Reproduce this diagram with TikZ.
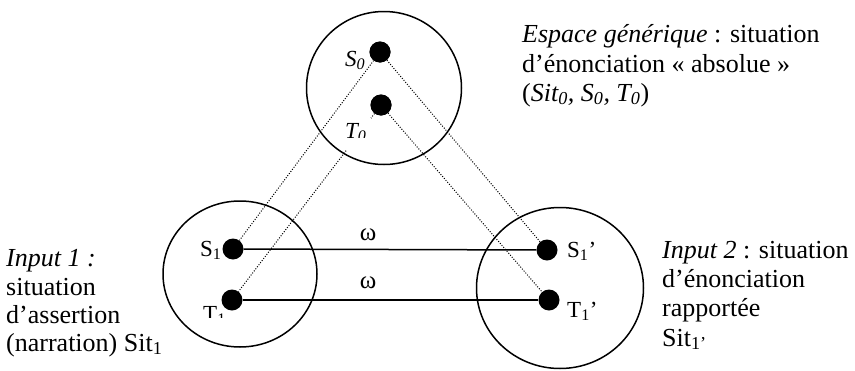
\documentclass[tikz,border=0pt]{standalone}
\usepackage{fontspec}
\setmainfont{Liberation Serif}
\usetikzlibrary{shapes.geometric}
\tikzset{
  ring/.style={draw, ellipse, line width=1.5pt, inner sep=0pt},
  blob/.style={circle, fill=black, minimum size=21pt, inner sep=0pt},
  solidlink/.style={line width=1.5pt},
  dotlink/.style={line width=1pt, dash pattern=on 1pt off 1.6pt},
  txt/.style={anchor=base west, inner sep=0pt, font=\fontsize{26}{29}\selectfont},
  lab/.style={anchor=base west, inner sep=0pt, font=\fontsize{23}{26}\selectfont},
  omega/.style={inner sep=0pt, font=\fontsize{25}{28}\selectfont}
}
\begin{document}
\begin{tikzpicture}[x=1pt,y=-1pt]
\useasboundingbox (0,0) rectangle (855,370);
% circles
\node[ring, minimum width=155pt, minimum height=153pt] (gen) at (384,88) {};
\node[ring, minimum width=154pt, minimum height=146pt] (in1) at (240,274) {};
\node[ring, minimum width=167pt, minimum height=161pt] (in2) at (560,288) {};
% dots (positions)
\node[blob] (S0) at (380,52) {};
\node[blob] (T0) at (381,105) {};
\node[blob] (S1) at (233,249) {};
\node[blob] (T1) at (232,300) {};
\node[blob] (S1p) at (547,250) {};
\node[blob] (T1p) at (549,300) {};
% dotted projections
\draw[dotlink] (S0) -- (S1);
\draw[dotlink] (S0) -- (S1p);
\draw[dotlink] (T0) -- (T1);
\draw[dotlink] (T0) -- (T1p);
% solid links
\draw[solidlink] (S1) -- (S1p);
\draw[solidlink] (T1) -- (T1p);
\node[omega] (w1) at (368,235) {ω};
\node[omega] (w2) at (368,283) {ω};
% labels
\node[lab] (lS0) at (345,66) {\textit{S\textsubscript{0}}};
\fill[white] (341,118) rectangle (371,150);
\begin{scope}
\clip (330,110) rectangle (380,137);
\node[lab] (lT0) at (345,138) {\textit{T\textsubscript{0}}};
\end{scope}
\node[lab] (lS1) at (200,256) {S\textsubscript{1}};
\begin{scope}
\clip (190,300) rectangle (230,317.5);
\node[lab] (lT1) at (203,321) {T\textsubscript{1}};
\end{scope}
\node[lab] (lS1p) at (567,257) {S\textsubscript{1}’};
\node[lab] (lT1p) at (567,317) {T\textsubscript{1}’};
% redraw blobs on top
\node[blob] at (S0) {};
\node[blob] at (T0) {};
% generic space text
\node[txt] (G1) at (522,42) {\textit{Espace générique} : situation};
\node[txt] (G2) at (522,72) {d’énonciation « absolue »};
\node[txt] (G3) at (522,101) {(\textit{Sit\textsubscript{0}, S\textsubscript{0}, T\textsubscript{0}})};
% input 1 text
\node[txt] (L1) at (6,266) {\textit{Input 1 :}};
\node[txt] (L2) at (6,295) {situation};
\node[txt] (L3) at (6,323) {d’assertion};
\node[txt] (L4) at (6,351) {(narration) Sit\textsubscript{1}};
% input 2 text
\node[txt] (R1) at (662,258) {\textit{Input 2} : situation};
\node[txt] (R2) at (662,287) {d’énonciation};
\node[txt] (R3) at (662,316) {rapportée};
\node[txt] (R4) at (662,346) {Sit\textsubscript{1’}};
\end{tikzpicture}
\end{document}
